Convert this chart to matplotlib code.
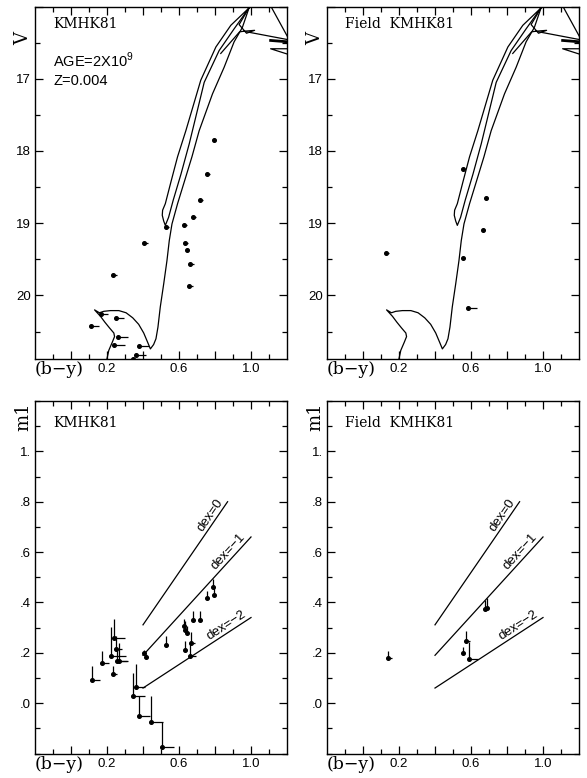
import numpy as np
import matplotlib.pyplot as plt
from matplotlib.ticker import MultipleLocator, FixedLocator, FuncFormatter

# ---- KMHK81 cluster stars: V and (b-y), error in (b-y) ----
cl_by = [0.792, 0.758, 0.718, 0.679, 0.629, 0.528, 0.408, 0.635, 0.642, 0.662,
         0.657, 0.232, 0.168, 0.251, 0.112, 0.260, 0.238, 0.376, 0.362, 0.343]
cl_V = [17.85, 18.32, 18.68, 18.92, 19.03, 19.05, 19.28, 19.28, 19.37, 19.56,
        19.87, 19.72, 20.26, 20.31, 20.42, 20.58, 20.68, 20.70, 20.82, 20.88]
cl_eby = [0.015, 0.015, 0.015, 0.015, 0.015, 0.015, 0.02, 0.015, 0.015, 0.02,
          0.02, 0.025, 0.04, 0.045, 0.045, 0.055, 0.06, 0.055, 0.055, 0.04]

# ---- KMHK81 cluster stars: m1 and (b-y), errors ----
cm_by = [0.115, 0.170, 0.232, 0.222, 0.239, 0.250, 0.257, 0.266,
         0.361, 0.346, 0.378, 0.443, 0.504, 0.405, 0.415,
         0.528, 0.629, 0.635, 0.642, 0.635, 0.665, 0.661, 0.678, 0.718,
         0.758, 0.792, 0.790]
cm_m1 = [0.092, 0.158, 0.116, 0.188, 0.258, 0.215, 0.168, 0.168,
         0.063, 0.029, -0.053, -0.073, -0.173, 0.198, 0.182,
         0.232, 0.305, 0.290, 0.278, 0.211, 0.238, 0.188, 0.330, 0.330,
         0.417, 0.430, 0.462]
cm_eby = [0.045, 0.040, 0.025, 0.083, 0.060, 0.032, 0.060, 0.045,
          0.050, 0.065, 0.061, 0.070, 0.068, 0.005, 0.012,
          0.012, 0.006, 0.006, 0.010, 0.006, 0.025, 0.035, 0.004, 0.004,
          0.006, 0.004, 0.004]
cm_em1 = [0.056, 0.048, 0.032, 0.115, 0.076, 0.050, 0.050, 0.070,
          0.093, 0.090, 0.082, 0.102, 0.100, 0.012, 0.012,
          0.035, 0.030, 0.035, 0.030, 0.035, 0.045, 0.050, 0.035, 0.035,
          0.030, 0.028, 0.030]

# ---- field stars ----
fd_by = [0.553, 0.682, 0.664, 0.129, 0.557, 0.585]
fd_V = [18.25, 18.65, 19.09, 19.41, 19.48, 20.17]
fd_eby = [0.010, 0.012, 0.012, 0.015, 0.012, 0.050]

fm_by = [0.137, 0.557, 0.570, 0.591, 0.678, 0.691]
fm_m1 = [0.178, 0.201, 0.245, 0.174, 0.373, 0.377]
fm_eby = [0.022, 0.006, 0.024, 0.050, 0.006, 0.006]
fm_em1 = [0.030, 0.022, 0.042, 0.070, 0.037, 0.040]

# ---- isochrone AGE=2x10^9, Z=0.004 ----
iso_by = [0.197, 0.210, 0.229, 0.242, 0.238, 0.214, 0.188, 0.164, 0.131, 0.158,
          0.182, 0.219, 0.266, 0.306, 0.343, 0.376, 0.404, 0.426, 0.441, 0.459,
          0.472, 0.483, 0.496, 0.515, 0.533, 0.546, 0.561, 0.592, 0.629, 0.672,
          0.712, 0.786, 0.851, 0.906, 0.952, 0.989]
iso_V = [20.91, 20.76, 20.65, 20.57, 20.52, 20.45, 20.37, 20.29, 20.20, 20.24,
         20.22, 20.21, 20.21, 20.24, 20.31, 20.40, 20.52, 20.65, 20.74, 20.68,
         20.60, 20.44, 20.16, 19.84, 19.52, 19.24, 19.01, 18.73, 18.43, 18.08,
         17.72, 17.21, 16.84, 16.49, 16.29, 16.02]
loop_by = [0.989, 0.888, 0.805, 0.721, 0.638, 0.592, 0.555, 0.524, 0.509, 0.507,
           0.515, 0.524, 0.542, 0.568, 0.611, 0.657, 0.740, 0.823, 0.906, 0.989]
loop_V = [16.02, 16.26, 16.56, 17.02, 17.72, 18.08, 18.43, 18.73, 18.82, 18.89,
          18.97, 19.03, 18.92, 18.68, 18.32, 17.90, 17.05, 16.61, 16.31, 16.02]
agb_by = [0.832, 0.937, 0.971, 1.020, 0.975, 0.934, 0.989]
agb_V = [16.65, 16.35, 16.34, 16.33, 16.37, 16.25, 16.02]
hb_by = [0.975, 1.25]
hb_V = [16.35, 16.48]
tip_by = [1.10, 1.21]
tip_V = [15.95, 16.45]
bar_by = [1.109, 1.21]
bar_V = [16.47, 16.49]
wedge_by = [1.21, 1.109, 1.21]
wedge_V = [16.585, 16.585, 16.665]

# ---- metallicity calibration lines in the m1 plane ----
dex_labels = ['dex=0', 'dex=\u22121', 'dex=\u22122']
dex_by = [[0.40, 0.87], [0.40, 1.00], [0.40, 1.00]]
dex_m1 = [[0.311, 0.800], [0.190, 0.660], [0.060, 0.340]]
dex_lab_by = [0.80, 0.90, 0.88]

SERIF = 'DejaVu Serif'
SANS = 'Liberation Sans'

fig = plt.figure(figsize=(5.87, 7.78), dpi=100)
W = 252 / 587
H = 352.5 / 778
xl = [35 / 587, 327 / 587]
yb = [1 - 359 / 778, 1 - 753.5 / 778]


def frame(ax, top):
    ax.set_xlim(-0.2, 1.2)
    ax.xaxis.set_major_locator(FixedLocator([0.0, 0.2, 0.4, 0.6, 0.8, 1.0]))
    ax.xaxis.set_minor_locator(FixedLocator(np.arange(-0.1, 1.15, 0.1)))
    ax.xaxis.set_major_formatter(FuncFormatter(
        lambda v, p: '%.1f' % v if round(v, 1) in (0.2, 0.6, 1.0) else ''))
    if top:
        ax.set_ylim(20.88, 16.0)
        ax.yaxis.set_major_locator(MultipleLocator(1))
        ax.yaxis.set_minor_locator(MultipleLocator(0.5))
        ax.yaxis.set_major_formatter(FuncFormatter(
            lambda v, p: '%d' % v if 17 <= v <= 20 else ''))
    else:
        ax.set_ylim(-0.2, 1.2)
        ax.yaxis.set_major_locator(FixedLocator([0.0, 0.2, 0.4, 0.6, 0.8, 1.0]))
        ax.yaxis.set_minor_locator(MultipleLocator(0.1))
        ax.yaxis.set_major_formatter(FuncFormatter(
            lambda v, p: '1.' if abs(v - 1) < 1e-6 else ('.%d' % round(v * 10))))
    ax.tick_params(which='both', direction='in', top=True, right=True,
                   width=0.9, labelsize=9.5)
    ax.tick_params(which='major', length=5.5)
    ax.tick_params(which='minor', length=3.5)
    ax.tick_params(axis='x', pad=3)
    ax.tick_params(axis='y', pad=3)
    for lab in ax.get_xticklabels() + ax.get_yticklabels():
        lab.set_family(SANS)
    for s in ax.spines.values():
        s.set_linewidth(1.0)
    ax.text(0.0, -0.031, '(b\u2212y)', transform=ax.transAxes, ha='left',
            va='center', family=SERIF, fontsize=12.5)
    ax.text(-0.045, 0.91 if top else 0.955, 'V' if top else 'm1',
            transform=ax.transAxes, rotation=90, ha='center', va='center',
            family=SERIF, fontsize=13)


def draw_iso(ax):
    kw = dict(color='black', lw=0.9)
    ax.plot(iso_by, iso_V, **kw)
    ax.plot(loop_by, loop_V, **kw)
    ax.plot(agb_by, agb_V, **kw)
    ax.plot(hb_by, hb_V, **kw)
    ax.plot(tip_by, tip_V, **kw)
    ax.plot(bar_by, bar_V, color='black', lw=2.0)
    ax.plot(wedge_by, wedge_V, **kw)


def draw_dex(ax):
    for lab, bx, my, lx in zip(dex_labels, dex_by, dex_m1, dex_lab_by):
        ax.plot(bx, my, color='black', lw=0.9)
        slope = (my[1] - my[0]) / (bx[1] - bx[0])
        ly = my[0] + slope * (lx - bx[0])
        ang = np.degrees(np.arctan(slope))
        ax.text(lx, ly + 0.006, lab, rotation=ang, transform_rotates_text=True,
                rotation_mode='anchor', ha='center', va='bottom',
                family=SANS, fontsize=9.5)


def stars(ax, bx, y, ex, ey=None):
    n = len(bx)
    xerr = [np.zeros(n), ex]
    yerr = None if ey is None else [np.zeros(n), ey]
    ax.errorbar(bx, y, xerr=xerr, yerr=yerr, fmt='o', ms=2.6, color='black',
                elinewidth=0.9, capsize=0)


# top left: cluster CMD
ax = fig.add_axes([xl[0], yb[0], W, H])
frame(ax, True)
draw_iso(ax)
stars(ax, cl_by, cl_V, cl_eby)
ax.text(0.072, 0.95, 'KMHK81', transform=ax.transAxes, family=SERIF,
        fontsize=10, va='center')
ax.text(0.072, 0.848, 'AGE=2X10$^\\mathregular{9}$', transform=ax.transAxes,
        family=SANS, fontsize=10.5, va='center')
ax.text(0.072, 0.789, 'Z=0.004', transform=ax.transAxes, family=SANS,
        fontsize=10.5, va='center')

# top right: field CMD
ax = fig.add_axes([xl[1], yb[0], W, H])
frame(ax, True)
draw_iso(ax)
stars(ax, fd_by, fd_V, fd_eby)
ax.text(0.072, 0.95, 'Field  KMHK81', transform=ax.transAxes, family=SERIF,
        fontsize=10, va='center')

# bottom left: cluster m1 vs (b-y)
ax = fig.add_axes([xl[0], yb[1], W, H])
frame(ax, False)
draw_dex(ax)
stars(ax, cm_by, cm_m1, cm_eby, cm_em1)
ax.text(0.072, 0.939, 'KMHK81', transform=ax.transAxes, family=SERIF,
        fontsize=10, va='center')

# bottom right: field m1 vs (b-y)
ax = fig.add_axes([xl[1], yb[1], W, H])
frame(ax, False)
draw_dex(ax)
stars(ax, fm_by, fm_m1, fm_eby, fm_em1)
ax.text(0.072, 0.939, 'Field  KMHK81', transform=ax.transAxes, family=SERIF,
        fontsize=10, va='center')

fig.savefig('out.png', dpi=100)
